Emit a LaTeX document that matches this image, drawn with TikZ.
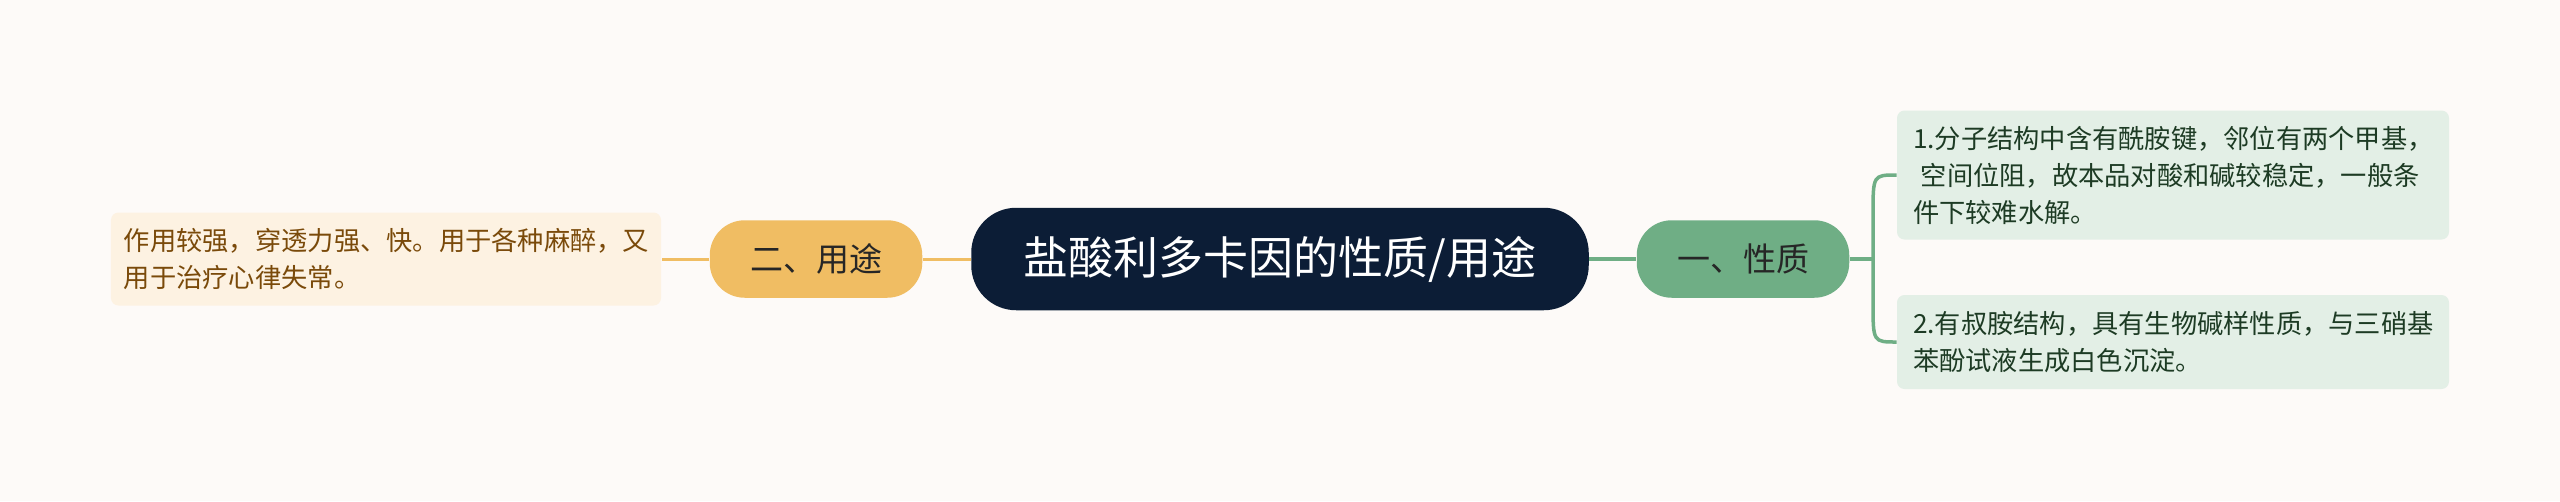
\documentclass[tikz,border=0pt]{standalone}
\usepackage{fontspec}
\setmainfont{Noto Sans CJK SC}
\definecolor{bgcol}{HTML}{FDFAF8}
\definecolor{navy}{HTML}{0C1D36}
\definecolor{orng}{HTML}{F0BD63}
\definecolor{orngleaf}{HTML}{FDF2E2}
\definecolor{orngtext}{HTML}{7A4A0A}
\definecolor{grn}{HTML}{6FAE85}
\definecolor{grnleaf}{HTML}{E3EFE6}
\definecolor{grntext}{HTML}{1D3B24}
\begin{document}
\begin{tikzpicture}[x=0.4pt,y=-0.4pt,
  rootbox/.style={fill=navy,rounded corners=18pt,minimum width=247pt,minimum height=41pt,
    text=white,font=\fontsize{18}{22}\selectfont},
  topicbox/.style={rounded corners=14pt,minimum width=85pt,minimum height=31pt,
    text=black!85,font=\fontsize{13.2}{16}\selectfont},
  leafbox/.style={rounded corners=3pt,align=left,inner ysep=0pt,
    font=\fontsize{10.5}{14.8}\selectfont},
  orngline/.style={draw=orng,line width=1.2pt},
  grnline/.style={draw=grn,line width=1.4pt}]
\fill[bgcol] (0,0) rectangle (2560,501);
\useasboundingbox (0,0) rectangle (2560,501);
% centre and the two topics
\node[rootbox] (root) at (1280,259) {盐酸利多卡因的性质/用途};
\node[topicbox,fill=orng] (use) at (816,259) {二、用途};
\node[topicbox,fill=grn] (prop) at (1743,259) {一、性质};
% leaves
\node[leafbox,fill=orngleaf,text=orngtext,inner xsep=5.2pt,text width=209.6pt,minimum height=37.2pt]
  (usea) at (386,259) {作用较强，穿透力强、快。用于各种麻醉，又\\用于治疗心律失常。};
\node[leafbox,fill=grnleaf,text=grntext,inner xsep=6.4pt,text width=208pt,minimum height=51.6pt]
  (pa) at (2173,175) {1.分子结构中含有酰胺键，邻位有两个甲基，\\\hspace*{.3em}空间位阻，故本品对酸和碱较稳定，一般条\\件下较难水解。};
\node[leafbox,fill=grnleaf,text=grntext,inner xsep=6.4pt,text width=208pt,minimum height=37.6pt]
  (pb) at (2173,342) {2.有叔胺结构，具有生物碱样性质，与三硝基\\苯酚试液生成白色沉淀。};
% connectors
\draw[orngline] (root.west) -- (use.east);
\draw[orngline] (use.west) -- (usea.east);
\draw[grnline] (root.east) -- (prop.west);
\coordinate (fork) at (1873,259);
\draw[grnline] (prop.east) -- (fork);
\foreach \n/\s in {pa/-1,pb/1}
  \draw[grnline] (fork) -- ([yshift=\s*16pt]fork|-\n.west) .. controls (fork|-\n.west) .. (\n.west);
\end{tikzpicture}
\end{document}
